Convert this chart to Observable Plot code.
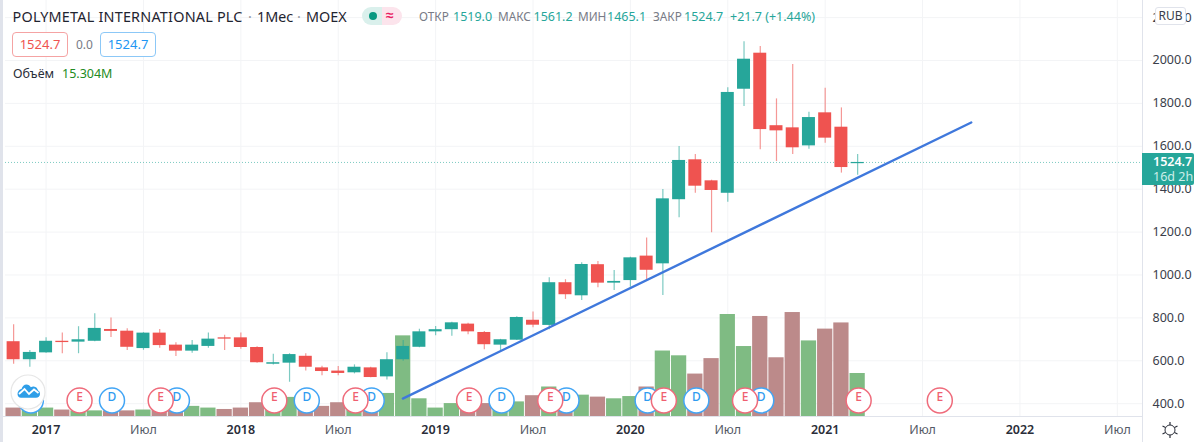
<!DOCTYPE html>
<html lang="ru">
<head>
<meta charset="utf-8">
<script src="https://cdn.jsdelivr.net/npm/d3@7"></script>
<script src="https://cdn.jsdelivr.net/npm/@observablehq/plot@0.6"></script>
<style>
  html,body{margin:0;padding:0;background:#fff;width:1200px;height:442px;overflow:hidden}
  #wrap{position:relative;width:1200px;height:442px;font-family:"Noto Sans",sans-serif;color:#131722}
  #chart svg{display:block;position:absolute;left:0;top:0;background:transparent}
  .t{position:absolute;white-space:nowrap;line-height:1}
  .box{position:absolute;box-sizing:border-box;border:1px solid;border-radius:4px;height:25px;width:56px;text-align:center;font-size:13px;line-height:23px;background:#fff}
</style>
</head>
<body>
<div id="wrap"><div id="chart"></div></div>
<script>
// Month index: 0 = Jan 2017, steps of one month
const months = d3.range(-2, 51);
const opens  = [689,605,637,691,687,691,746,738,657,729,673,645,667,707,707,662,584,589,621,567,552,544,567,525,605,663,735,745,771,732,673,696,789,765,964,903,1048,962,974,1088,1052,1351,1537,1439,1381,1866,2034,1696,1686,1602,1756,1689,1519.0];
const highs  = [768,648,707,730,759,819,799,749,731,746,684,695,730,719,730,665,631,633,633,575,573,581,570,637,695,747,760,780,775,737,700,805,827,987,978,1057,1063,1021,1083,1173,1399,1599,1562,1442,1873,2087,2065,1821,1981,1759,1871,1779,1561.2];
const lows   = [584,570,635,633,633,689,709,648,649,659,620,635,659,648,654,589,580,500,552,530,530,539,521,511,598,661,717,715,721,651,648,695,754,745,886,881,940,928,943,974,904,1267,1381,1197,1339,1786,1584,1529,1562,1586,1614,1475,1465.1];
const closes = [605,639,691,685,698,751,737,663,729,671,645,673,701,701,662,591,591,629,570,550,541,570,522,605,667,735,745,777,735,675,698,802,766,964,908,1049,962,970,1080,1022,1355,1534,1414,1394,1851,2006,1678,1672,1593,1734,1638,1501,1524.7];
const volumes = [3.0,2.5,3.0,2.3,2.0,2.0,2.0,2.0,2.3,2.5,2.0,3.6,3.0,2.5,3.0,4.9,4.6,6.8,3.6,3.6,4.9,4.3,3.2,8.2,28.7,6.3,3.0,4.6,4.3,4.6,3.6,5.2,7.4,10.5,8.9,7.6,6.9,6.3,7.1,10.5,23.3,21.6,15.1,20.6,36.3,24.9,35.6,20.9,37.0,26.9,31.1,33.3,15.304];
const earningsMonths = [2,7,14,19,26,31,38,43,50,55];
const dividendMonths = [-1,4,8,16,20,28,32,37,40,44];
const trendMonths = [21.98,57];
const trendPrices = [424,1711];
const priceTicks = [400,600,800,1000,1200,1400,1600,1800,2000,2200];
const yearTicks = [0,12,24,36,48,60];
const yearLabels = ["2017","2018","2019","2020","2021","2022"];
const julyTicks = [6,18,30,42,54,66];
const lastPrice = 1524.7;

const UP = "#26a69a", DOWN = "#ef5350", VOL_UP = "#7fbb83", VOL_DOWN = "#bc8a8a";
const BLUE = "#42a5f5", PINK = "#ef6b7b", GRID = "#f3f4f6", EDGE = "#e0e3eb";
const priceFloor = 340.3, priceCeil = 2279.7, volumeToPrice = 13.1;

const candles = months.map((m,k)=>({m, open:opens[k], high:highs[k], low:lows[k], close:closes[k], volume:volumes[k], up:closes[k]>=opens[k]}));
const trend = trendMonths.map((m,k)=>({m, price:trendPrices[k]}));
const yearName = new Map(yearTicks.map((t,k)=>[t,yearLabels[k]]));

const plot = Plot.plot({
  width:1200, height:442,
  marginLeft:5, marginRight:58, marginTop:0, marginBottom:26,
  style:{background:"transparent", fontFamily:'"Noto Sans",sans-serif'},
  x:{type:"linear", domain:[-2.5,67.55]},
  y:{type:"linear", domain:[priceFloor,priceCeil]},
  marks:[
    Plot.ruleY(priceTicks,{stroke:GRID, strokeWidth:1}),
    Plot.ruleX([...yearTicks,...julyTicks],{stroke:GRID, strokeWidth:1}),
    Plot.rect(candles,{x1:d=>d.m-0.47, x2:d=>d.m+0.47, y1:priceFloor, y2:d=>priceFloor+d.volume*volumeToPrice, fill:d=>d.up?VOL_UP:VOL_DOWN}),
    Plot.ruleY([lastPrice],{stroke:UP, strokeOpacity:.6, strokeDasharray:"1 2", strokeWidth:1}),
    Plot.ruleX(candles,{x:"m", y1:"low", y2:"high", stroke:d=>d.up?UP:DOWN, strokeOpacity:.6, strokeWidth:1.2}),
    Plot.rect(candles,{x1:d=>d.m-0.4, x2:d=>d.m+0.4, y1:"open", y2:"close", fill:d=>d.up?UP:DOWN}),
    Plot.line(trend,{x:"m", y:"price", stroke:"#3f78dc", strokeWidth:2.4}),
    Plot.dot(dividendMonths,{x:d=>d, frameAnchor:"bottom", dy:-16, dx:1, r:12.5, fill:"#fff", stroke:BLUE, strokeWidth:1.5}),
    Plot.text(dividendMonths,{x:d=>d, frameAnchor:"bottom", dy:-16, dx:1, text:()=>"D", fill:"#2f9bf0", fontSize:12, fontWeight:500}),
    Plot.dot(earningsMonths,{x:d=>d, frameAnchor:"bottom", dy:-16, dx:1, r:12.5, fill:"#fff", stroke:PINK, strokeWidth:1.5}),
    Plot.text(earningsMonths,{x:d=>d, frameAnchor:"bottom", dy:-16, dx:1, text:()=>"E", fill:"#ef5f70", fontSize:12, fontWeight:500}),
    Plot.axisY({anchor:"right", ticks:priceTicks, tickFormat:d=>d.toFixed(1), tickSize:0, tickPadding:10, label:null, fontSize:12.5, color:"#3a3e4a", textAnchor:"start"}),
    Plot.axisX({anchor:"bottom", ticks:yearTicks, tickFormat:d=>yearName.get(d), tickSize:0, tickPadding:9, label:null, fontSize:12.5, fontWeight:600, color:"#2a2e39"}),
    Plot.axisX({anchor:"bottom", ticks:julyTicks, tickFormat:()=>"Июл", tickSize:0, tickPadding:9, label:null, fontSize:12.5, color:"#555a66"})
  ]
});
document.getElementById("chart").appendChild(plot);

// Chart chrome drawn as page elements around the plot
const wrap = document.getElementById("wrap");
function text(str,x,y,size,color,extra){
  const s=document.createElement("div");s.className="t";s.textContent=str;
  s.style.cssText=`left:${x}px;top:${y}px;font-size:${size}px;color:${color};${extra||""}`;
  wrap.appendChild(s);return s;
}
function block(x,y,w,h,css){
  const s=document.createElement("div");s.style.cssText=`position:absolute;left:${x}px;top:${y}px;width:${w}px;height:${h}px;${css||""}`;
  wrap.appendChild(s);return s;
}
function box(str,x,y,border,color){
  const s=document.createElement("div");s.className="box";s.textContent=str;
  s.style.cssText=`left:${x}px;top:${y}px;color:${color};border-color:${border};`;
  wrap.appendChild(s);
}
block(0,0,3,442,"background:#e0e3eb");
block(3,416,1139,1,"background:#e0e3eb");
block(1142,0,1,442,"background:#e0e3eb");

text("POLYMETAL INTERNATIONAL PLC",12.5,10,14.4,"#1f2430","letter-spacing:.22px");
text("·",248,10,14.4,"#9598a1");
text("1Мес",257,10,14.4,"#1f2430");
text("·",297,10,14.4,"#9598a1");
text("MOEX",306,10,14.4,"#1f2430");
// status pill
block(362,7,20,18,"background:#daf0ec;border-radius:9px 0 0 9px");
block(382,7,20,18,"background:#fce4ec;border-radius:0 9px 9px 0");
block(369,12,8,8,"background:#089981;border-radius:50%");
text("≈",386,8,14,"#e91e63","font-weight:700");

const legendLabels=[["ОТКР",419],["МАКС",498],["МИН",578],["ЗАКР",653]];
const legendValues=[["1519.0",453],["1561.2",533.5],["1465.1",607],["1524.7",684],["+21.7 (+1.44%)",730]];
legendLabels.forEach(([s,x])=>text(s,x,11,11.8,"#787b86"));
legendValues.forEach(([s,x])=>text(s,x,11,12.5,"#26a69a"));

box("1524.7",12,32,"#f5a3a3","#ef5350");
text("0.0",76,39,12,"#787b86");
box("1524.7",100,32,"#8cc8f7","#2196f3");
text("Объём",13,68,12.5,"#2a2e39");
text("15.304M",62,68,12.5,"#228b22");

// last price label, currency button, gear
block(1142,153,52,32,"background:#26a69a;border-radius:0 2px 2px 0");
text("1524.7",1153,156,12.5,"#fff","font-weight:600");
text("16d 2h",1153,171,12.5,"#cdeee9");
text("RUB",1155,7,12,"#3a3e4a","box-sizing:border-box;width:31px;height:18px;line-height:16px;text-align:center;background:#fff;border:1px solid #e0e3eb;border-radius:3px");

// widget logo and settings icon
const logo='<svg xmlns="http://www.w3.org/2000/svg" width="36" height="36" style="position:absolute;left:9.5px;top:374px"><circle cx="18" cy="18" r="17" fill="#fff" stroke="#e6e6e6" stroke-width="1.2"/><path d="M7.5 20c0-2.6 1.8-4.6 4-5 .8-2.6 2.6-4.6 5-4.6 2 0 3.4 1.2 4.4 2.8 .8-.6 1.8-.9 2.8-.8 2.4.2 4 2 4.4 4.2 1.2.6 1.9 1.9 1.9 3.4 0 2.2-1.8 3.8-4 3.8H11c-2 0-3.5-1.6-3.5-3.8z" fill="#2e9ee8"/><path d="M9 20l5.5-5 4.5 5 5-4.5 4.5 3.5" fill="none" stroke="#fff" stroke-width="1.8"/></svg>';
wrap.insertAdjacentHTML("beforeend",logo);
wrap.insertAdjacentHTML("beforeend",'<svg xmlns="http://www.w3.org/2000/svg" width="18" height="18" style="position:absolute;left:1161px;top:421px"><circle cx="9" cy="9" r="5" fill="none" stroke="#2a2e39" stroke-width="1"/><g stroke="#2a2e39" stroke-width="1.2"><line x1="9" y1="1" x2="9" y2="4"/><line x1="9" y1="14" x2="9" y2="17"/><line x1="1.5" y1="5" x2="4.5" y2="6.5"/><line x1="13.5" y1="11.5" x2="16.5" y2="13"/><line x1="1.5" y1="13" x2="4.5" y2="11.5"/><line x1="13.5" y1="6.5" x2="16.5" y2="5"/></g></svg>');
</script>
</body>
</html>
